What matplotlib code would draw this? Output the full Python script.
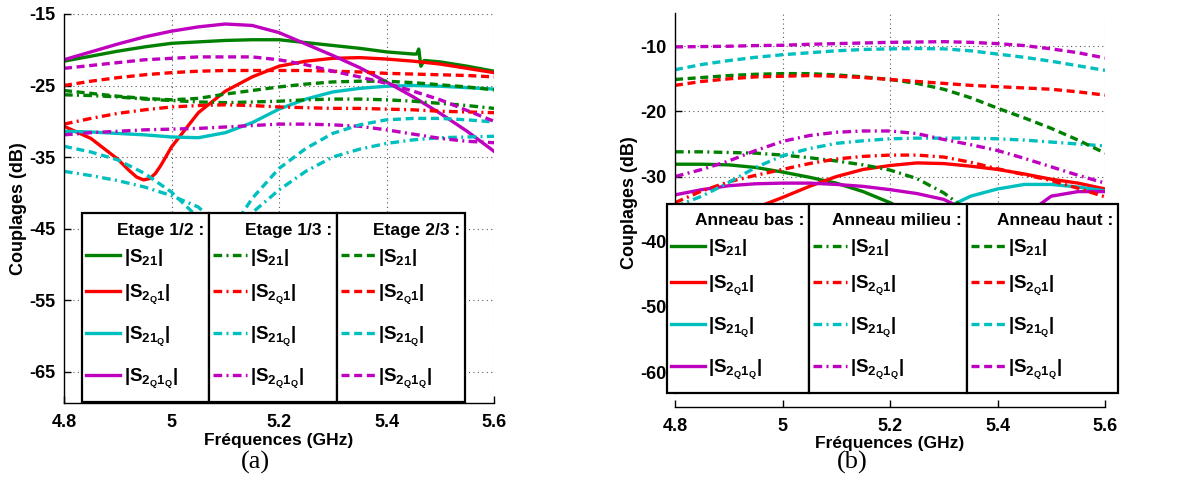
import matplotlib
matplotlib.use('Agg')
import matplotlib.pyplot as plt
from matplotlib.patches import Rectangle

plt.rcParams['font.family'] = ['Liberation Sans', 'DejaVu Sans']
plt.rcParams['font.weight'] = 'bold'
plt.rcParams['mathtext.fontset'] = 'custom'
plt.rcParams['mathtext.default'] = 'regular'
plt.rcParams['axes.unicode_minus'] = False

# frequency grid (GHz)
f = [4.8, 4.85, 4.9, 4.95, 5.0, 5.05, 5.1, 5.15, 5.2, 5.25, 5.3, 5.35, 5.4, 5.45, 5.5, 5.55, 5.6]

# ---- panel (a) ----
# Etage 1/2 (solid)
fa_s21 = [4.8, 4.85, 4.9, 4.95, 5.0, 5.05, 5.1, 5.15, 5.2, 5.25, 5.3, 5.35, 5.4, 5.45,
          5.456, 5.46, 5.464, 5.47, 5.5, 5.55, 5.6]
a12_s21 = [-21.6, -20.9, -20.2, -19.6, -19.1, -18.9, -18.7, -18.6, -18.6, -19.0, -19.4, -19.8, -20.3, -20.6,
           -20.6, -19.9, -22.3, -21.5, -21.7, -22.3, -23.0]
fa_s2q1 = [4.8, 4.85, 4.9, 4.92, 4.935, 4.948, 4.96, 4.97, 4.98, 5.0, 5.05, 5.1, 5.15, 5.2, 5.25, 5.3,
           5.35, 5.4, 5.45, 5.5, 5.55, 5.6]
a12_s2q1 = [-30.7, -32.4, -35.3, -36.8, -37.8, -38.2, -38.0, -37.3, -36.2, -33.6, -28.8, -25.8, -23.8, -22.3, -21.6, -21.2,
            -21.1, -21.3, -21.6, -22.0, -22.6, -23.2]
a12_s21q = [-31.4, -31.5, -31.7, -31.9, -32.2, -32.3, -31.6, -30.2, -28.3, -26.9, -25.9, -25.4, -25.1, -25.0, -25.1, -25.3, -25.5]
a12_s2q1q = [-21.4, -20.3, -19.2, -18.2, -17.4, -16.8, -16.4, -16.6, -17.6, -19.2, -20.8, -22.5, -24.5, -26.6, -28.9, -31.4, -34.2]
# Etage 1/3 (dash-dot)
a13_s21 = [-26.3, -26.4, -26.6, -26.9, -27.1, -27.3, -27.4, -27.3, -27.2, -27.0, -26.9, -26.9, -27.0, -27.2, -27.5, -27.8, -28.2]
a13_s2q1 = [-30.4, -29.6, -28.9, -28.4, -28.0, -27.8, -27.7, -27.8, -28.0, -28.1, -28.2, -28.2, -28.3, -28.4, -28.6, -28.7, -28.8]
a13_s21q = [-37.0, -37.6, -38.3, -39.2, -40.4, -42.0, -45.5, -42.8, -39.6, -37.0, -35.0, -33.9, -33.1, -32.6, -32.3, -32.2, -32.1]
a13_s2q1q = [-31.9, -31.6, -31.4, -31.2, -31.1, -31.0, -30.8, -30.6, -30.4, -30.4, -30.5, -30.7, -31.2, -31.8, -32.4, -32.8, -33.0]
# Etage 2/3 (dashed)
a23_s21 = [-25.7, -26.1, -26.5, -26.8, -27.0, -26.8, -26.2, -25.7, -25.2, -24.8, -24.5, -24.4, -24.4, -24.6, -24.9, -25.2, -25.6]
a23_s2q1 = [-25.0, -24.4, -23.9, -23.5, -23.2, -23.0, -22.9, -22.9, -22.9, -22.9, -23.0, -23.1, -23.3, -23.4, -23.5, -23.6, -23.8]
a23_s21q = [-33.5, -34.3, -35.4, -37.3, -39.9, -43.5, -46.5, -40.8, -36.6, -33.8, -31.7, -30.5, -29.8, -29.6, -29.6, -29.8, -30.1]
a23_s2q1q = [-22.6, -22.2, -21.8, -21.4, -21.2, -21.0, -21.0, -21.0, -21.4, -22.1, -23.0, -23.8, -24.7, -25.8, -27.0, -28.5, -30.0]

# ---- panel (b) ----
# Anneau bas (solid)
bb_s21 = [-28.1, -28.1, -28.2, -28.6, -29.3, -30.1, -31.0, -32.3, -34.0, -36.0, -38.0, -40.0, -42.0, -44.0, -46.0, -48.0, -50.0]
bb_s2q1 = [-40.0, -38.5, -37.0, -34.8, -33.2, -31.5, -30.0, -28.9, -28.3, -27.9, -28.0, -28.4, -28.9, -29.6, -30.4, -31.0, -31.9]
bb_s21q = [-50.0, -49.0, -48.0, -47.0, -46.0, -45.0, -44.0, -42.0, -40.0, -37.5, -35.0, -33.0, -31.9, -31.2, -31.2, -31.6, -32.2]
bb_s2q1q = [-32.8, -32.0, -31.4, -31.1, -31.0, -31.0, -31.2, -31.5, -32.0, -32.6, -33.5, -35.5, -38.0, -36.0, -33.0, -32.3, -32.3]
# Anneau milieu (dash-dot)
bm_s21 = [-26.2, -26.2, -26.3, -26.4, -26.7, -27.1, -27.6, -28.2, -29.0, -30.3, -32.5, -35.5, -38.5, -41.5, -44.5, -47.5, -50.5]
bm_s2q1 = [-34.0, -32.2, -30.8, -29.8, -28.9, -28.0, -27.3, -26.9, -26.7, -26.7, -27.0, -27.8, -28.8, -29.7, -30.6, -31.8, -33.1]
bm_s21q = [-34.6, -33.0, -30.9, -28.6, -26.8, -25.7, -24.9, -24.5, -24.2, -24.1, -24.1, -24.1, -24.2, -24.4, -24.7, -25.0, -25.3]
bm_s2q1q = [-30.0, -28.9, -27.6, -26.0, -24.6, -23.7, -23.2, -23.0, -23.0, -23.4, -24.3, -25.1, -26.0, -27.2, -28.5, -29.8, -31.0]
# Anneau haut (dashed)
bh_s21 = [-15.1, -14.8, -14.5, -14.3, -14.2, -14.2, -14.4, -14.7, -15.1, -15.7, -16.6, -17.9, -19.5, -21.0, -22.6, -24.4, -26.4]
bh_s2q1 = [-16.0, -15.4, -15.0, -14.7, -14.6, -14.5, -14.6, -14.8, -15.1, -15.4, -15.7, -16.0, -16.2, -16.4, -16.6, -17.0, -17.5]
bh_s21q = [-13.6, -12.8, -12.2, -11.7, -11.3, -11.0, -10.7, -10.5, -10.4, -10.35, -10.4, -10.7, -11.2, -11.7, -12.3, -13.0, -13.7]
bh_s2q1q = [-10.1, -10.05, -10.0, -9.9, -9.85, -9.7, -9.6, -9.5, -9.4, -9.35, -9.3, -9.4, -9.6, -9.9, -10.4, -11.0, -11.8]

labels = [r'|S$_{21}$|', r'|S$_{2_Q1}$|', r'|S$_{21_Q}$|', r'|S$_{2_Q1_Q}$|']
colors = ['#008000', '#ff0000', '#00bfbf', '#bf00bf']
solid = '-'
dashdot = (0, (2.6, 1.3, 0.6, 1.3))
dashed = (0, (2.4, 1.4))
LW = 2.4

W, H = 1204, 488
fig = plt.figure(figsize=(W / 100, H / 100), dpi=100)
ax1 = fig.add_axes([64 / W, 1 - 403 / H, 430 / W, 389 / H])
ax2 = fig.add_axes([675 / W, 1 - 393 / H, 430 / W, 380 / H])

def draw(ax, x, y, c, ls):
    return ax.plot(x, y, color=c, ls=ls, lw=LW, solid_joinstyle='round', dash_capstyle='butt')[0]

# panel (a)
a_sets = [
    ([fa_s21, fa_s2q1, f, f], [a12_s21, a12_s2q1, a12_s21q, a12_s2q1q], solid),
    ([f, f, f, f], [a13_s21, a13_s2q1, a13_s21q, a13_s2q1q], dashdot),
    ([f, f, f, f], [a23_s21, a23_s2q1, a23_s21q, a23_s2q1q], dashed),
]
a_handles = []
for xs, ys, ls in a_sets:
    a_handles.append([draw(ax1, x, y, c, ls) for x, y, c in zip(xs, ys, colors)])

b_sets = [
    ([bb_s21, bb_s2q1, bb_s21q, bb_s2q1q], solid),
    ([bm_s21, bm_s2q1, bm_s21q, bm_s2q1q], dashdot),
    ([bh_s21, bh_s2q1, bh_s21q, bh_s2q1q], dashed),
]
b_handles = []
for ys, ls in b_sets:
    b_handles.append([draw(ax2, f, y, c, ls) for y, c in zip(ys, colors)])

grid_kw = dict(color='0.35', lw=0.8, ls=(0, (1, 3)))

ax1.set_xlim(4.8, 5.6)
ax1.set_ylim(-69.4, -15)
ax1.set_xticks([4.8, 5.0, 5.2, 5.4, 5.6])
ax1.set_xticklabels(['4.8', '5', '5.2', '5.4', '5.6'])
ax1.set_yticks([-15, -25, -35, -45, -55, -65])
ax1.spines['top'].set_visible(False)
ax1.spines['right'].set_visible(False)

ax2.set_xlim(4.8, 5.6)
ax2.set_ylim(-63.2, -4.9)
ax2.set_xticks([4.8, 5.0, 5.2, 5.4, 5.6])
ax2.set_xticklabels(['4.8', '5', '5.2', '5.4', '5.6'])
ax2.set_yticks([-10, -20, -30, -40, -50, -60])
ax2.spines['top'].set_visible(False)
ax2.spines['right'].set_visible(False)
ax2.spines['bottom'].set_position(('outward', 10))

for ax in (ax1, ax2):
    ax.grid(True, **grid_kw)
    ax.set_axisbelow(True)
    for s in ('left', 'bottom'):
        ax.spines[s].set_linewidth(1.0)
    ax.tick_params(direction='in', length=5, width=1, labelsize=13, pad=6)
    ax.tick_params(axis='x', pad=8)
    ax.set_xlabel('Fréquences (GHz)', fontsize=12.5, fontweight='bold', labelpad=1)
    ax.set_ylabel('Couplages (dB)', fontsize=13, fontweight='bold', labelpad=2)
    for lab in ax.get_xticklabels() + ax.get_yticklabels():
        lab.set_fontweight('bold')

row_offsets = [44, 82, 124, 166]

def legend_column(handles, title, x0, x1, top, bottom):
    fig.patches.append(Rectangle((x0 / W, 1 - bottom / H), (x1 - x0) / W, (bottom - top) / H,
                                 transform=fig.transFigure, fc='white', ec='black', lw=1.6, zorder=2))
    fig.text((x1 - 5) / W, 1 - (top + 17) / H, title, ha='right', va='center',
             fontsize=12.5, fontweight='bold', zorder=4)
    for h, lab, dy in zip(handles, labels, row_offsets):
        leg = fig.legend([h], [lab], loc='center left', bbox_to_anchor=((x0 + 4) / W, 1 - (top + dy) / H),
                         frameon=False, borderpad=0, borderaxespad=0, handlelength=1.8,
                         handletextpad=0.2, prop=dict(weight='bold', size=13.5))
        leg.set_zorder(5)

a_cols = [(82, 209), (209, 337), (337, 465)]
a_titles = ['Etage 1/2 :', 'Etage 1/3 :', 'Etage 2/3 :']
for hs, t, (x0, x1) in zip(a_handles, a_titles, a_cols):
    legend_column(hs, t, x0, x1, 213, 402)

b_cols = [(667, 809), (809, 967), (967, 1118)]
b_titles = ['Anneau bas :', 'Anneau milieu :', 'Anneau haut :']
for hs, t, (x0, x1) in zip(b_handles, b_titles, b_cols):
    legend_column(hs, t, x0, x1, 204, 393)

fig.text(255 / W, 1 - 462 / H, '(a)', ha='center', va='center', fontsize=19,
         family='Liberation Serif', fontweight='normal')
fig.text(852 / W, 1 - 462 / H, '(b)', ha='center', va='center', fontsize=19,
         family='Liberation Serif', fontweight='normal')

fig.savefig('out.png', dpi=100)
